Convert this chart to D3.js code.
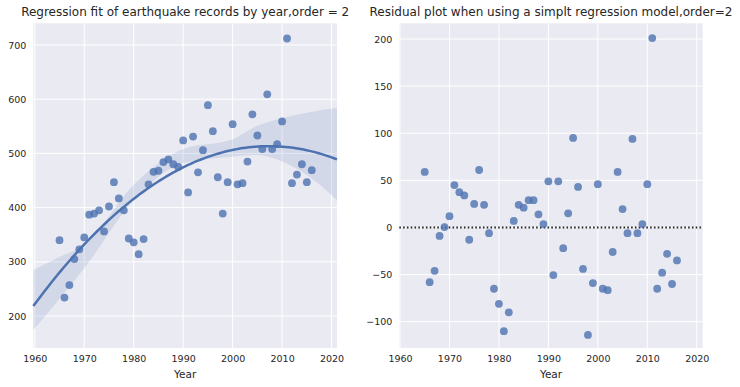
<!DOCTYPE html>
<head>
    <meta charset="utf-8">
    <script src="https://d3js.org/d3.v7.min.js"></script>
    <style>
        body {
            margin: 0;
            background: white;
            font-family: "DejaVu Sans", sans-serif;
        }

        .plot-bg {
            fill: #eaeaf2;
        }

        .grid-line {
            stroke: white;
            stroke-width: 1px;
        }

        .tick text {
            font-size: 9.5px;
            fill: #262626;
        }

        .title {
            font-size: 12px;
            fill: #262626;
        }

        .axis-label {
            font-size: 10.5px;
            fill: #262626;
        }

        .dot {
            fill: #4c72b0;
            opacity: 0.8;
        }

        .fit-line {
            fill: none;
            stroke: #4c72b0;
            stroke-width: 2.5px;
        }

        .ci-band {
            fill: #4c72b0;
            opacity: 0.15;
        }

        .zero-line {
            stroke: #262626;
            stroke-width: 1.8px;
            stroke-dasharray: 1.6,2.2;
        }
    </style>
</head>

<body>
<script>
    // earthquake records per year
    var years = d3.range(1965, 2017);
    var counts = [340, 234, 257, 305, 323, 345, 387, 389, 395, 356,
                  402, 447, 417, 395, 343, 336, 314, 342, 443, 466,
                  468, 484, 489, 480, 475, 524, 428, 531, 465, 506,
                  589, 541, 456, 389, 447, 554, 443, 445, 485, 572,
                  533, 508, 609, 508, 517, 559, 712, 445, 461, 480,
                  447, 469];

    // residuals
    var residuals = [59, -58, -46, -9, 0.4, 12, 45, 37.5, 34, -13,
                     25, 61, 24, -6, -65, -81, -110, -90, 7, 24,
                     21, 29, 29, 14, 3.6, 49, -50.5, 49, -22, 15,
                     95, 43, -44, -114, -59, 46, -65, -66.5, -26, 59,
                     19.5, -6, 94, -6, 3.6, 46, 201, -65, -48, -28,
                     -60, -35];

    // confidence band edges
    var bandYears = [1959.7, 1965, 1970, 1980, 1990, 2000, 2005, 2010, 2015, 2021.1];
    var bandLow   = [174, 232, 288, 414, 482, 494, 497, 485, 460, 414];
    var bandHigh  = [285, 309, 331, 442, 508, 526, 551, 565, 575, 584];

    var xTicks = [1960, 1970, 1980, 1990, 2000, 2010, 2020];
    var yTicksLeft = [200, 300, 400, 500, 600, 700];
    var yTicksRight = [-100, -50, 0, 50, 100, 150, 200];

    var svg = d3.select("body").append("svg")
        .attr("width", 740)
        .attr("height", 387);

    var plotTop = 23.3, plotBottom = 348;

    function makePanel(left, right, xDomain, yDomain, yTicks, title) {
        var g = svg.append("g");
        var x = d3.scaleLinear().domain(xDomain).range([left, right]);
        var y = d3.scaleLinear().domain(yDomain).range([plotBottom, plotTop]);

        g.append("rect")
            .attr("class", "plot-bg")
            .attr("x", left)
            .attr("y", plotTop)
            .attr("width", right - left)
            .attr("height", plotBottom - plotTop);

        g.append("g").selectAll("line")
            .data(xTicks)
            .enter().append("line")
            .attr("class", "grid-line")
            .attr("x1", function(d) { return x(d); })
            .attr("x2", function(d) { return x(d); })
            .attr("y1", plotTop)
            .attr("y2", plotBottom);

        g.append("g").selectAll("line")
            .data(yTicks)
            .enter().append("line")
            .attr("class", "grid-line")
            .attr("x1", left)
            .attr("x2", right)
            .attr("y1", function(d) { return y(d); })
            .attr("y2", function(d) { return y(d); });

        var xAxis = g.append("g")
            .attr("transform", "translate(0," + plotBottom + ")")
            .call(d3.axisBottom(x).tickValues(xTicks).tickSize(0).tickPadding(7).tickFormat(d3.format("d")));
        xAxis.select(".domain").remove();

        var yAxis = g.append("g")
            .attr("transform", "translate(" + left + ",0)")
            .call(d3.axisLeft(y).tickValues(yTicks).tickSize(0).tickPadding(7));
        yAxis.select(".domain").remove();

        xAxis.attr("font-family", null).attr("font-size", null);
        yAxis.attr("font-family", null).attr("font-size", null);

        g.append("text")
            .attr("class", "title")
            .attr("x", (left + right) / 2)
            .attr("y", 16)
            .attr("text-anchor", "middle")
            .text(title);

        g.append("text")
            .attr("class", "axis-label")
            .attr("x", (left + right) / 2)
            .attr("y", 378)
            .attr("text-anchor", "middle")
            .text("Year");

        return {g: g, x: x, y: y};
    }

    // ---- left: data + order-2 fit ----
    var L = makePanel(33.3, 337, [1959.7, 2021.1], [141, 740], yTicksLeft,
        "Regression fit of earthquake records by year,order = 2");

    // least squares quadratic through the points
    function quadFit(xs, ys) {
        var c = 1990;
        var s = [0, 0, 0, 0, 0], t = [0, 0, 0];
        xs.forEach(function(xv, i) {
            var u = xv - c, p = 1;
            for (var k = 0; k < 5; k++) { s[k] += p; if (k < 3) t[k] += p * ys[i]; p *= u; }
        });
        var A = [[s[0], s[1], s[2], t[0]], [s[1], s[2], s[3], t[1]], [s[2], s[3], s[4], t[2]]];
        for (var i = 0; i < 3; i++) {
            for (var j = i + 1; j < 3; j++) {
                var f = A[j][i] / A[i][i];
                for (var k = i; k < 4; k++) A[j][k] -= f * A[i][k];
            }
        }
        var b = [0, 0, 0];
        for (var i = 2; i >= 0; i--) {
            var v = A[i][3];
            for (var k = i + 1; k < 3; k++) v -= A[i][k] * b[k];
            b[i] = v / A[i][i];
        }
        return function(xv) { var u = xv - c; return b[0] + b[1] * u + b[2] * u * u; };
    }

    var fit = quadFit(years, counts);

    var band = bandYears.map(function(d, i) { return {yr: d, lo: bandLow[i], hi: bandHigh[i]}; });

    L.g.append("path")
        .datum(band)
        .attr("class", "ci-band")
        .attr("d", d3.area()
            .curve(d3.curveMonotoneX)
            .x(function(d) { return L.x(d.yr); })
            .y0(function(d) { return L.y(d.lo); })
            .y1(function(d) { return L.y(d.hi); }));

    L.g.selectAll(".dot")
        .data(years)
        .enter().append("circle")
        .attr("class", "dot")
        .attr("r", 3.9)
        .attr("cx", function(d) { return L.x(d); })
        .attr("cy", function(d, i) { return L.y(counts[i]); });

    var fx = d3.range(0, 101).map(function(i) { return 1959.7 + (2021.1 - 1959.7) * i / 100; });
    L.g.append("path")
        .datum(fx)
        .attr("class", "fit-line")
        .attr("d", d3.line()
            .x(function(d) { return L.x(d); })
            .y(function(d) { return L.y(fit(d)); }));

    // ---- right: residuals ----
    var R = makePanel(399.3, 702.7, [1959.86, 2021.2], [-127.9, 216.7], yTicksRight,
        "Residual plot when using a simplt regression model,order=2");

    R.g.append("line")
        .attr("class", "zero-line")
        .attr("x1", 399.3)
        .attr("x2", 702.7)
        .attr("y1", R.y(0))
        .attr("y2", R.y(0));

    R.g.selectAll(".dot")
        .data(years)
        .enter().append("circle")
        .attr("class", "dot")
        .attr("r", 3.9)
        .attr("cx", function(d) { return R.x(d); })
        .attr("cy", function(d, i) { return R.y(residuals[i]); });
</script>
</body>
</html>
